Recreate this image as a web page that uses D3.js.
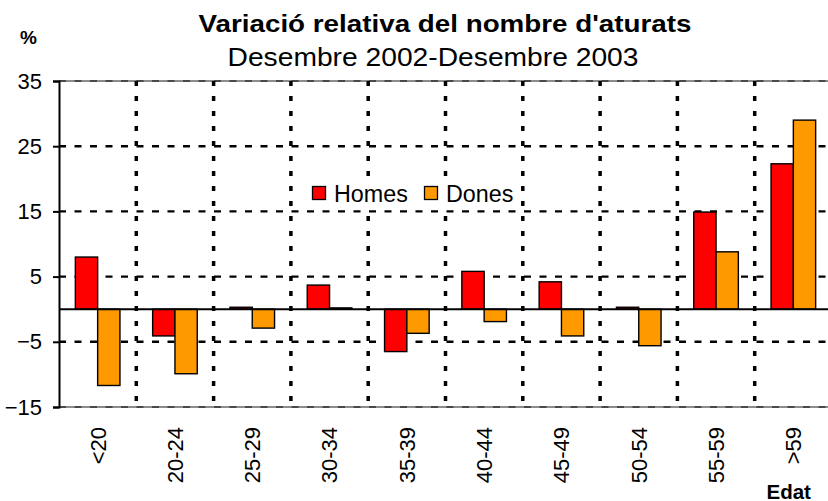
<!DOCTYPE html>
<html>
<head>
<meta charset="utf-8">
<script src="https://cdn.jsdelivr.net/npm/d3@7"></script>
<style>
  body { margin: 0; background: #fff; }
  text { font-family: "Liberation Sans", Arial, sans-serif; }
</style>
</head>
<body>
<div id="wrapper"></div>
<script>
// dades
const categories = ["<20", "20-24", "25-29", "30-34", "35-39", "40-44", "45-49", "50-54", "55-59", ">59"];
const series = ["Homes", "Dones"];
const homesValues = [8.0, -4.1, 0.3, 3.7, -6.5, 5.8, 4.2, 0.3, 14.9, 22.3];
const donesValues = [-11.7, -9.9, -2.9, 0.2, -3.7, -1.9, -4.1, -5.6, 8.8, 29.0];
const yTicks = [35, 25, 15, 5, -5, -15];
const colors = { Homes: "#ff0000", Dones: "#ff9900" };

const dimensions = {
  width: 828,
  height: 501,
  margin: { top: 81, right: -4, bottom: 94, left: 59 },
};
dimensions.boundedWidth = dimensions.width - dimensions.margin.left - dimensions.margin.right;
dimensions.boundedHeight = dimensions.height - dimensions.margin.top - dimensions.margin.bottom;

const rows = categories.map((c, i) => ({ cat: c, Homes: homesValues[i], Dones: donesValues[i] }));

const wrapper = d3.select("#wrapper")
  .append("svg")
  .attr("width", dimensions.width)
  .attr("height", dimensions.height);

const bounds = wrapper.append("g")
  .attr("transform", `translate(${dimensions.margin.left},${dimensions.margin.top})`);

const yScale = d3.scaleLinear()
  .domain([-15, 35])
  .range([dimensions.boundedHeight, 0]);

// cel·les (per a la graella vertical) i grups de barres
const cellScale = d3.scaleBand()
  .domain(categories)
  .range([0, dimensions.boundedWidth])
  .padding(0);

const xScale = d3.scaleBand()
  .domain(categories)
  .range([0, dimensions.boundedWidth])
  .paddingInner(0.423)
  .paddingOuter(0.2115);

const xSub = d3.scaleBand()
  .domain(series)
  .range([0, xScale.bandwidth()]);

// vores superior i inferior
bounds.selectAll(".border")
  .data([35, -15])
  .join("line")
  .attr("x1", 0)
  .attr("x2", dimensions.boundedWidth)
  .attr("y1", (d) => yScale(d))
  .attr("y2", (d) => yScale(d))
  .attr("stroke", "#8c8c8c")
  .attr("stroke-width", 2);

// graella horitzontal
bounds.selectAll(".hgrid")
  .data(yTicks)
  .join("line")
  .attr("x1", 0)
  .attr("x2", dimensions.boundedWidth)
  .attr("y1", (d) => yScale(d))
  .attr("y2", (d) => yScale(d))
  .attr("stroke", (d) => (d === 35 || d === -15 ? "#333" : "#000"))
  .attr("stroke-width", (d) => (d === 35 || d === -15 ? 1.3 : 2.4))
  .style("stroke-dasharray", "7 8.5");

// graella vertical
bounds.selectAll(".vgrid")
  .data(categories.slice(1))
  .join("line")
  .attr("x1", (d) => cellScale(d))
  .attr("x2", (d) => cellScale(d))
  .attr("y1", 0)
  .attr("y2", dimensions.boundedHeight)
  .attr("stroke", "#000")
  .attr("stroke-width", 3.5)
  .style("stroke-dasharray", "5 10");

// llegenda
const legend = bounds.append("g")
  .attr("transform", `translate(${312.5 - dimensions.margin.left},${186.5 - dimensions.margin.top})`);

legend.append("rect")
  .attr("x", -7)
  .attr("y", -9)
  .attr("width", 212)
  .attr("height", 32)
  .attr("fill", "#fff");

const legendItems = legend.selectAll(".item")
  .data(series)
  .join("g")
  .attr("transform", (d, i) => `translate(${i * 112},0)`);

legendItems.append("rect")
  .attr("width", 13)
  .attr("height", 13)
  .attr("fill", (d) => colors[d])
  .attr("stroke", "#000")
  .attr("stroke-width", 1.3);

legendItems.append("text")
  .attr("x", 21.5)
  .attr("y", 15)
  .text((d) => d)
  .style("font-size", "23.3px")
  .style("fill", "#000");

// barres
const groups = bounds.selectAll(".group")
  .data(rows)
  .join("g")
  .attr("transform", (d) => `translate(${xScale(d.cat)},0)`);

groups.selectAll("rect")
  .data((d) => series.map((s) => ({ key: s, value: d[s] })))
  .join("rect")
  .attr("x", (d) => xSub(d.key))
  .attr("y", (d) => yScale(Math.max(0, d.value)))
  .attr("width", xSub.bandwidth())
  .attr("height", (d) => Math.abs(yScale(d.value) - yScale(0)))
  .attr("fill", (d) => colors[d.key])
  .attr("stroke", "#000")
  .attr("stroke-width", 1.4);

// línia del zero
bounds.append("line")
  .attr("x1", 0)
  .attr("x2", dimensions.boundedWidth)
  .attr("y1", yScale(0))
  .attr("y2", yScale(0))
  .attr("stroke", "#000")
  .attr("stroke-width", 2);

// eix Y
const yAxisGenerator = d3.axisLeft(yScale)
  .tickValues(yTicks)
  .tickSize(6)
  .tickPadding(11);

const yAxis = bounds.append("g").call(yAxisGenerator);
yAxis.select(".domain").attr("stroke", "#000").attr("stroke-width", 2);
yAxis.selectAll(".tick line").attr("stroke", "#000").attr("stroke-width", 2);
yAxis.selectAll(".tick text")
  .style("font-size", "22px")
  .style("font-family", "'Liberation Sans', Arial, sans-serif")
  .attr("fill", "#000");

// eix X (etiquetes girades)
const xAxisGenerator = d3.axisBottom(cellScale).tickSize(0).tickPadding(0);
const xAxis = bounds.append("g")
  .attr("transform", `translate(0,${dimensions.boundedHeight})`)
  .call(xAxisGenerator);
xAxis.select(".domain").remove();
xAxis.selectAll(".tick text")
  .attr("transform", "translate(0,20) rotate(-90)")
  .attr("x", 0)
  .attr("y", 0)
  .attr("dy", "0.36em")
  .style("text-anchor", "end")
  .style("font-size", "22px")
  .style("font-family", "'Liberation Sans', Arial, sans-serif")
  .attr("fill", "#000");

// títols
wrapper.append("text")
  .attr("x", 198.5)
  .attr("y", 32)
  .attr("textLength", 493)
  .attr("lengthAdjust", "spacingAndGlyphs")
  .text("Variació relativa del nombre d'aturats")
  .style("font-size", "24px")
  .style("font-weight", "bold");

wrapper.append("text")
  .attr("x", 227.5)
  .attr("y", 66)
  .attr("textLength", 411)
  .attr("lengthAdjust", "spacingAndGlyphs")
  .text("Desembre 2002-Desembre 2003")
  .style("font-size", "26.5px");

wrapper.append("text")
  .attr("x", 20)
  .attr("y", 44)
  .text("%")
  .style("font-size", "19px")
  .style("font-weight", "bold");

wrapper.append("text")
  .attr("x", 766.5)
  .attr("y", 499)
  .text("Edat")
  .style("font-size", "20.5px")
  .style("font-weight", "bold");
</script>
</body>
</html>
